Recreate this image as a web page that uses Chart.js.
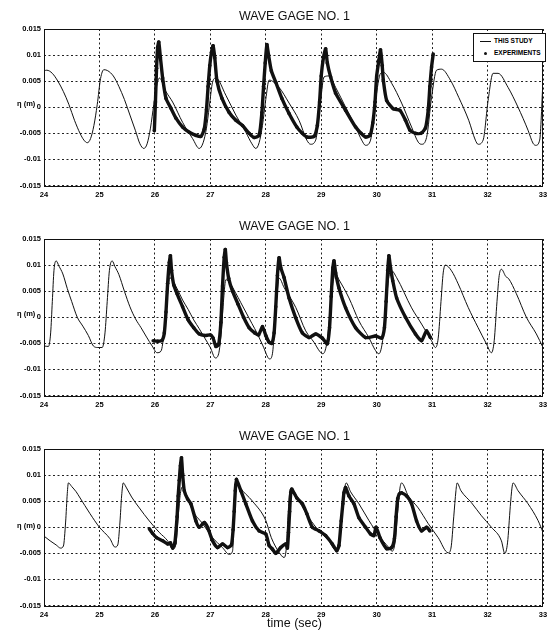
<!DOCTYPE html>
<html><head><meta charset="utf-8">
<script src="https://cdn.jsdelivr.net/npm/chart.js@4.4.1/dist/chart.umd.min.js"></script>
<style>
html,body{margin:0;padding:0;background:#fff;}
#wrap{position:relative;width:547px;height:632px;overflow:hidden;background:#fff;}
.panel{position:absolute;left:0;width:547px;}
.panel canvas{position:absolute;left:0;top:0;}
.title{position:absolute;left:44px;width:501px;top:10px;text-align:center;font:12.5px/12.5px 'Liberation Sans',Arial,sans-serif;color:#111;white-space:nowrap;}
.ylab{position:absolute;left:17px;top:100px;font:bold 7.5px/8px 'Liberation Sans',Arial,sans-serif;color:#000;white-space:nowrap;}
.xlab{position:absolute;left:44px;width:501px;top:617px;text-align:center;font:12.5px/12.5px 'Liberation Sans',Arial,sans-serif;color:#111;}
.legend{position:absolute;left:473px;top:33px;width:71px;height:27px;border:1px solid #111;background:#fff;font:bold 6.5px/8px 'Liberation Sans',Arial,sans-serif;color:#000;transform:translateZ(0);}
.legend .row{position:absolute;left:0;white-space:nowrap;}
.legend .ln{position:absolute;left:6px;top:4px;width:11px;height:0;border-top:1px solid #111;}
.legend .dot{position:absolute;left:10px;top:3px;width:3px;height:3px;border-radius:50%;background:#111;}
.legend .tx{position:absolute;left:20px;top:0;}
</style>
</head><body>
<div id="wrap">
  <div class="panel" id="p1" style="top:0;height:210px"><canvas id="c1" width="547" height="210"></canvas><div class="title"></div><div class="ylab">η (m)</div>
    <div class="legend">
      <div class="row" style="top:3px"><div class="ln"></div><div class="tx">THIS STUDY</div></div>
      <div class="row" style="top:15px"><div class="dot"></div><div class="tx">EXPERIMENTS</div></div>
    </div>
  </div>
  <div class="panel" id="p2" style="top:210px;height:210px"><canvas id="c2" width="547" height="210"></canvas><div class="title"></div><div class="ylab">η (m)</div></div>
  <div class="panel" id="p3" style="top:420px;height:212px"><canvas id="c3" width="547" height="212"></canvas><div class="title"></div><div class="ylab" style="top:102px">η (m)</div></div>
  <div class="xlab">time (sec)</div>
</div>
<script>
// ---- tick values / labels ----
const xTickValues = [24, 25, 26, 27, 28, 29, 30, 31, 32, 33];
const yTickValues = [-0.015, -0.01, -0.005, 0, 0.005, 0.01, 0.015];
const yTickLabels = ['-0.015', '-0.01', '-0.005', '0', '0.005', '0.01', '0.015'];
const panelTitles = ['WAVE GAGE NO. 1', 'WAVE GAGE NO. 1', 'WAVE GAGE NO. 1'];
const seriesNames = ['THIS STUDY', 'EXPERIMENTS'];

// ---- panel 1: [time (s), eta (m)] ----
const gage1aStudy = [[24.00,0.0070],[24.05,0.0071],[24.15,0.0065],[24.25,0.0050],[24.35,0.0030],[24.45,0.0005],[24.55,-0.0025],[24.65,-0.0050],[24.72,-0.0063],[24.78,-0.0068],[24.84,-0.0060],[24.90,-0.0035],[24.96,0.0005],[25.02,0.0055],[25.08,0.0072],[25.15,0.0070],[25.25,0.0060],[25.35,0.0040],[25.45,0.0015],[25.55,-0.0015],[25.65,-0.0045],[25.73,-0.0070],[25.80,-0.0079],[25.86,-0.0070],[25.92,-0.0040],[25.98,0.0005],[26.04,0.0045],[26.08,0.0056],[26.20,0.0030],[26.32,0.0010],[26.50,-0.0029],[26.68,-0.0060],[26.80,-0.0079],[26.87,-0.0068],[26.93,-0.0040],[26.98,0.0000],[27.04,0.0048],[27.10,0.0056],[27.28,0.0023],[27.46,-0.0015],[27.64,-0.0048],[27.75,-0.0070],[27.82,-0.0079],[27.88,-0.0068],[27.94,-0.0035],[28.00,0.0015],[28.06,0.0052],[28.24,0.0038],[28.42,0.0008],[28.60,-0.0025],[28.74,-0.0063],[28.81,-0.0071],[28.90,-0.0063],[28.99,0.0013],[29.05,0.0058],[29.14,0.0060],[29.26,0.0038],[29.44,0.0000],[29.62,-0.0038],[29.73,-0.0063],[29.80,-0.0073],[29.89,-0.0063],[29.98,0.0013],[30.07,0.0065],[30.12,0.0067],[30.27,0.0046],[30.45,0.0008],[30.63,-0.0038],[30.75,-0.0067],[30.81,-0.0071],[30.90,-0.0058],[30.99,0.0019],[31.08,0.0071],[31.17,0.0073],[31.33,0.0052],[31.48,0.0019],[31.66,-0.0025],[31.78,-0.0063],[31.83,-0.0071],[31.92,-0.0063],[32.01,0.0013],[32.10,0.0065],[32.19,0.0065],[32.37,0.0038],[32.55,0.0000],[32.73,-0.0044],[32.82,-0.0069],[32.87,-0.0073],[32.94,-0.0063],[33.00,0.0052]];
const gage1aExp = [[25.99,-0.0045],[26.01,0.0010],[26.03,0.0075],[26.05,0.0115],[26.07,0.0125],[26.10,0.0095],[26.14,0.0056],[26.20,0.0017],[26.29,-0.0002],[26.38,-0.0021],[26.50,-0.0038],[26.62,-0.0048],[26.74,-0.0054],[26.83,-0.0056],[26.89,-0.0042],[26.93,-0.0005],[26.96,0.0040],[26.99,0.0080],[27.02,0.0105],[27.05,0.0118],[27.08,0.0095],[27.12,0.0050],[27.21,0.0017],[27.34,-0.0010],[27.46,-0.0025],[27.58,-0.0035],[27.70,-0.0050],[27.79,-0.0058],[27.88,-0.0054],[27.93,-0.0010],[27.96,0.0040],[27.99,0.0085],[28.02,0.0120],[28.05,0.0100],[28.10,0.0070],[28.18,0.0048],[28.29,0.0017],[28.42,-0.0012],[28.56,-0.0038],[28.66,-0.0050],[28.74,-0.0057],[28.87,-0.0056],[28.93,-0.0035],[28.97,0.0010],[29.00,0.0060],[29.04,0.0095],[29.08,0.0112],[29.11,0.0085],[29.17,0.0058],[29.26,0.0027],[29.44,-0.0006],[29.62,-0.0038],[29.72,-0.0050],[29.80,-0.0057],[29.88,-0.0054],[29.93,-0.0030],[29.97,0.0010],[30.00,0.0060],[30.04,0.0090],[30.07,0.0110],[30.10,0.0080],[30.12,0.0052],[30.18,0.0013],[30.30,-0.0003],[30.42,-0.0006],[30.52,-0.0025],[30.60,-0.0044],[30.70,-0.0050],[30.80,-0.0050],[30.88,-0.0040],[30.93,-0.0005],[30.96,0.0040],[30.99,0.0077],[31.02,0.0102]];

// ---- panel 2 ----
const gage1bStudy = [[24.00,-0.0055],[24.08,-0.0056],[24.12,-0.0030],[24.15,0.0030],[24.18,0.0090],[24.22,0.0108],[24.27,0.0098],[24.34,0.0083],[24.42,0.0055],[24.50,0.0030],[24.60,0.0000],[24.70,-0.0017],[24.80,-0.0035],[24.89,-0.0055],[24.97,-0.0058],[25.05,-0.0058],[25.10,-0.0030],[25.14,0.0030],[25.18,0.0090],[25.23,0.0108],[25.28,0.0097],[25.35,0.0082],[25.45,0.0050],[25.55,0.0020],[25.65,-0.0003],[25.75,-0.0020],[25.85,-0.0038],[25.95,-0.0055],[26.04,-0.0068],[26.11,-0.0065],[26.17,-0.0025],[26.22,0.0035],[26.27,0.0076],[26.33,0.0068],[26.40,0.0055],[26.50,0.0033],[26.60,0.0015],[26.70,-0.0005],[26.80,-0.0022],[26.90,-0.0040],[27.00,-0.0058],[27.09,-0.0078],[27.15,-0.0070],[27.20,-0.0025],[27.24,0.0035],[27.28,0.0072],[27.35,0.0066],[27.45,0.0048],[27.55,0.0028],[27.65,0.0008],[27.75,-0.0012],[27.85,-0.0032],[27.95,-0.0055],[28.07,-0.0080],[28.12,-0.0070],[28.16,-0.0020],[28.20,0.0040],[28.24,0.0075],[28.33,0.0057],[28.54,0.0019],[28.72,-0.0026],[28.87,-0.0048],[28.97,-0.0065],[29.03,-0.0070],[29.10,-0.0050],[29.16,0.0010],[29.21,0.0065],[29.26,0.0082],[29.32,0.0072],[29.50,0.0037],[29.68,-0.0007],[29.86,-0.0039],[29.98,-0.0064],[30.04,-0.0070],[30.10,-0.0050],[30.16,0.0010],[30.21,0.0070],[30.26,0.0090],[30.36,0.0076],[30.63,0.0018],[30.81,-0.0013],[30.99,-0.0045],[31.06,-0.0058],[31.11,-0.0040],[31.16,0.0030],[31.20,0.0085],[31.24,0.0100],[31.35,0.0089],[31.47,0.0064],[31.65,0.0019],[31.83,-0.0020],[31.98,-0.0051],[32.07,-0.0068],[32.12,-0.0045],[32.17,0.0030],[32.21,0.0080],[32.25,0.0092],[32.33,0.0078],[32.38,0.0074],[32.52,0.0045],[32.70,0.0000],[32.88,-0.0032],[33.00,-0.0058]];
const gage1bExp = [[25.97,-0.0045],[26.05,-0.0046],[26.13,-0.0044],[26.17,-0.0030],[26.20,0.0010],[26.23,0.0065],[26.26,0.0105],[26.28,0.0118],[26.30,0.0090],[26.34,0.0062],[26.40,0.0045],[26.50,0.0020],[26.60,-0.0005],[26.70,-0.0020],[26.80,-0.0032],[26.90,-0.0035],[27.00,-0.0034],[27.05,-0.0040],[27.10,-0.0056],[27.15,-0.0052],[27.19,-0.0010],[27.22,0.0060],[27.25,0.0115],[27.27,0.0130],[27.29,0.0105],[27.33,0.0075],[27.40,0.0050],[27.50,0.0025],[27.60,0.0000],[27.70,-0.0020],[27.80,-0.0030],[27.87,-0.0034],[27.94,-0.0018],[28.00,-0.0035],[28.06,-0.0048],[28.11,-0.0050],[28.15,-0.0030],[28.18,0.0020],[28.21,0.0080],[28.24,0.0114],[28.27,0.0095],[28.33,0.0076],[28.42,0.0037],[28.54,-0.0001],[28.66,-0.0030],[28.78,-0.0039],[28.90,-0.0032],[29.02,-0.0040],[29.11,-0.0051],[29.15,-0.0020],[29.18,0.0040],[29.21,0.0095],[29.23,0.0108],[29.26,0.0085],[29.32,0.0056],[29.44,0.0018],[29.62,-0.0020],[29.80,-0.0039],[29.98,-0.0036],[30.09,-0.0040],[30.14,-0.0020],[30.17,0.0030],[30.20,0.0090],[30.22,0.0118],[30.25,0.0095],[30.29,0.0070],[30.36,0.0037],[30.52,0.0000],[30.70,-0.0032],[30.81,-0.0045],[30.90,-0.0026],[30.97,-0.0039]];

// ---- panel 3 ----
const gage1cStudy = [[24.00,-0.0017],[24.11,-0.0026],[24.22,-0.0034],[24.30,-0.0040],[24.35,-0.0036],[24.39,0.0010],[24.42,0.0065],[24.44,0.0085],[24.50,0.0078],[24.58,0.0068],[24.64,0.0058],[24.83,0.0026],[25.00,0.0000],[25.19,-0.0022],[25.28,-0.0038],[25.33,-0.0034],[25.37,0.0010],[25.40,0.0060],[25.43,0.0085],[25.48,0.0077],[25.58,0.0058],[25.72,0.0037],[25.90,0.0012],[26.08,-0.0010],[26.23,-0.0026],[26.32,-0.0042],[26.38,-0.0032],[26.42,0.0020],[26.46,0.0065],[26.50,0.0078],[26.57,0.0062],[26.68,0.0032],[26.86,0.0007],[27.04,-0.0020],[27.22,-0.0039],[27.34,-0.0052],[27.40,-0.0046],[27.43,0.0020],[27.45,0.0070],[27.47,0.0089],[27.53,0.0077],[27.76,0.0050],[28.00,0.0013],[28.10,-0.0020],[28.24,-0.0048],[28.33,-0.0058],[28.37,-0.0040],[28.40,0.0020],[28.43,0.0065],[28.46,0.0074],[28.60,0.0050],[28.78,0.0018],[28.96,-0.0007],[29.14,-0.0026],[29.26,-0.0044],[29.31,-0.0040],[29.36,0.0010],[29.41,0.0065],[29.45,0.0085],[29.53,0.0068],[29.68,0.0045],[29.86,0.0013],[30.04,-0.0016],[30.22,-0.0039],[30.28,-0.0046],[30.33,-0.0030],[30.38,0.0030],[30.42,0.0075],[30.45,0.0085],[30.57,0.0060],[30.75,0.0037],[30.93,0.0007],[31.11,-0.0020],[31.29,-0.0049],[31.34,-0.0040],[31.39,0.0020],[31.43,0.0070],[31.45,0.0085],[31.52,0.0070],[31.71,0.0047],[31.89,0.0022],[32.07,0.0000],[32.25,-0.0026],[32.31,-0.0050],[32.36,-0.0030],[32.41,0.0040],[32.44,0.0075],[32.46,0.0085],[32.55,0.0070],[32.73,0.0045],[32.91,0.0013],[33.00,-0.0010]];
const gage1cExp = [[25.90,-0.0003],[25.96,-0.0012],[26.03,-0.0020],[26.14,-0.0026],[26.23,-0.0032],[26.28,-0.0030],[26.32,-0.0040],[26.36,-0.0030],[26.40,0.0020],[26.42,0.0060],[26.44,0.0090],[26.46,0.0118],[26.48,0.0133],[26.50,0.0102],[26.53,0.0070],[26.59,0.0054],[26.65,0.0045],[26.74,0.0012],[26.80,0.0000],[26.89,0.0009],[26.95,0.0000],[27.04,-0.0026],[27.13,-0.0039],[27.22,-0.0032],[27.31,-0.0039],[27.38,-0.0034],[27.41,-0.0005],[27.43,0.0030],[27.45,0.0070],[27.47,0.0092],[27.55,0.0070],[27.64,0.0045],[27.76,0.0012],[27.88,-0.0007],[28.00,-0.0013],[28.06,-0.0035],[28.12,-0.0042],[28.18,-0.0050],[28.27,-0.0039],[28.36,-0.0032],[28.39,-0.0040],[28.41,-0.0010],[28.43,0.0030],[28.45,0.0066],[28.47,0.0073],[28.56,0.0056],[28.66,0.0045],[28.74,0.0026],[28.84,0.0000],[28.96,-0.0007],[29.08,-0.0016],[29.20,-0.0032],[29.28,-0.0045],[29.32,-0.0035],[29.36,0.0012],[29.39,0.0045],[29.41,0.0066],[29.44,0.0076],[29.50,0.0060],[29.59,0.0045],[29.68,0.0018],[29.80,0.0000],[29.89,-0.0013],[29.95,-0.0016],[29.99,0.0000],[30.06,-0.0020],[30.18,-0.0041],[30.27,-0.0039],[30.32,-0.0022],[30.35,0.0020],[30.38,0.0055],[30.41,0.0064],[30.45,0.0066],[30.54,0.0060],[30.63,0.0045],[30.72,0.0012],[30.81,-0.0007],[30.90,0.0000],[30.96,-0.0007]];

// ---- drawing ----
const TICK_FONT = {family: "'Liberation Sans',Arial,sans-serif", size: 7.5, weight: 'bold'};
const PLOT_LEFT = 44, PLOT_RIGHT = 545.5, PLOT_TOP = 29, PLOT_BOTTOM = 185.5;

const framePlugin = {
  id: 'frame',
  afterDatasetsDraw(chart) {
    const a = chart.chartArea, ctx = chart.ctx;
    ctx.save();
    ctx.strokeStyle = '#111';
    ctx.lineWidth = 1;
    ctx.strokeRect(Math.round(a.left) + 0.5, Math.round(a.top) + 0.5, Math.round(a.right - a.left) - 1, Math.round(a.bottom - a.top));
    ctx.restore();
  }
};

function toXY(pairs) { return pairs.map(p => ({x: p[0], y: p[1]})); }

function makeChart(canvasId, study, exp) {
  const canvas = document.getElementById(canvasId);
  const H = canvas.height;
  return new Chart(canvas, {
    type: 'scatter',
    data: {
      datasets: [
        {label: seriesNames[0], data: toXY(study), showLine: true, borderColor: '#111', borderWidth: 1,
         pointRadius: 0, cubicInterpolationMode: 'monotone', order: 2},
        {label: seriesNames[1], data: toXY(exp), showLine: true, borderColor: '#111', borderWidth: 3.4,
         backgroundColor: '#111', pointRadius: 1.8, pointBorderWidth: 0, tension: 0.2, order: 1}
      ]
    },
    options: {
      responsive: false, animation: false, devicePixelRatio: 1,
      layout: {padding: {top: PLOT_TOP, right: 547 - PLOT_RIGHT, left: 0, bottom: 0}},
      plugins: {legend: {display: false}, tooltip: {enabled: false}, title: {display: false}},
      scales: {
        x: {
          type: 'linear', min: 24, max: 33,
          afterBuildTicks: s => { s.ticks = xTickValues.map(v => ({value: v})); },
          afterFit: s => { s.height = H - PLOT_BOTTOM; s.paddingLeft = 0; s.paddingRight = 0; },
          ticks: {font: TICK_FONT, color: '#000', padding: 5, maxRotation: 0, autoSkip: false,
                  callback: v => String(v)},
          grid: {color: '#222', lineWidth: 1, drawTicks: false, borderDash: [2, 2.5]},
          border: {display: false, dash: [2, 2.5]}
        },
        y: {
          type: 'linear', min: -0.015, max: 0.015,
          afterBuildTicks: s => { s.ticks = yTickValues.map(v => ({value: v})); },
          afterFit: s => { s.width = PLOT_LEFT; s.paddingTop = 0; s.paddingBottom = 0; },
          ticks: {font: TICK_FONT, color: '#000', padding: 3, autoSkip: false,
                  callback: (v, i) => yTickLabels[i]},
          grid: {color: '#222', lineWidth: 1, drawTicks: false, borderDash: [2, 2.5]},
          border: {display: false, dash: [2, 2.5]}
        }
      }
    },
    plugins: [framePlugin]
  });
}

document.querySelectorAll('.panel .title').forEach((el, i) => { el.textContent = panelTitles[i]; });
makeChart('c1', gage1aStudy, gage1aExp);
makeChart('c2', gage1bStudy, gage1bExp);
makeChart('c3', gage1cStudy, gage1cExp);
</script>
</body></html>
